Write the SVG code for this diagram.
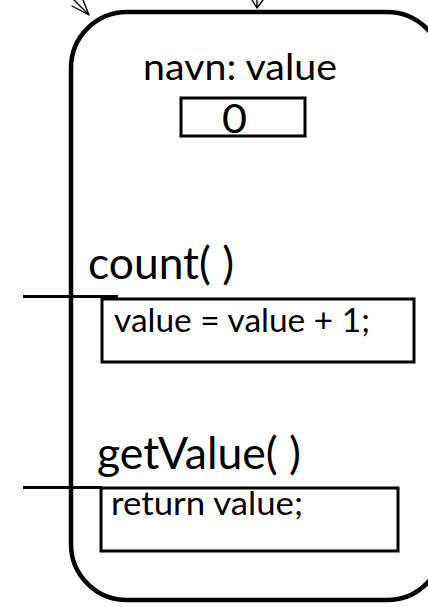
<svg xmlns="http://www.w3.org/2000/svg" width="428" height="607" viewBox="0 0 428 607">
<style>
.t{font-family:Lato,"Liberation Sans",sans-serif;fill:#000}
.box{fill:none;stroke:#000;stroke-width:3}
.call{fill:none;stroke:#000;stroke-width:3}
.arr{fill:none;stroke:#000;stroke-width:1.4;stroke-linecap:round;stroke-linejoin:round}
</style>
<rect width="428" height="607" fill="#fff"/>
<g id="object">
<rect x="71" y="12" width="372" height="588" rx="56" ry="56" fill="none" stroke="#000" stroke-width="4.5"/>
<text class="t" x="143" y="80" font-size="37" textLength="194" lengthAdjust="spacingAndGlyphs">navn: value</text>
</g>
<g id="field-value">
<rect class="box" x="181" y="98" width="124" height="38"/>
<text class="t" x="222" y="133" font-size="41" textLength="25" lengthAdjust="spacingAndGlyphs">0</text>
</g>
<g id="method-count">
<text class="t" x="88" y="279" font-size="44" textLength="146" lengthAdjust="spacingAndGlyphs">count( )</text>
<rect class="box" x="102" y="299" width="312" height="63"/>
<text class="t" x="114" y="332" font-size="32" textLength="256" lengthAdjust="spacingAndGlyphs">value = value + 1;</text>
</g>
<g id="method-getValue">
<text class="t" x="97" y="469" font-size="44" textLength="204" lengthAdjust="spacingAndGlyphs">getValue( )</text>
<rect class="box" x="101" y="488" width="297" height="63"/>
<text class="t" x="111" y="515" font-size="32" textLength="192" lengthAdjust="spacingAndGlyphs">return value;</text>
</g>
<g id="connectors">
<path class="arr" d="M74,0 L89,15 M72,6 L89,15 L83,0"/>
<path class="arr" d="M257,0 L257,8 M252,0 L257,8 L263,0"/>
<line class="call" x1="23" y1="296.5" x2="118" y2="296.5"/>
<line class="call" x1="23" y1="487.5" x2="102" y2="487.5"/>
</g>
</svg>
